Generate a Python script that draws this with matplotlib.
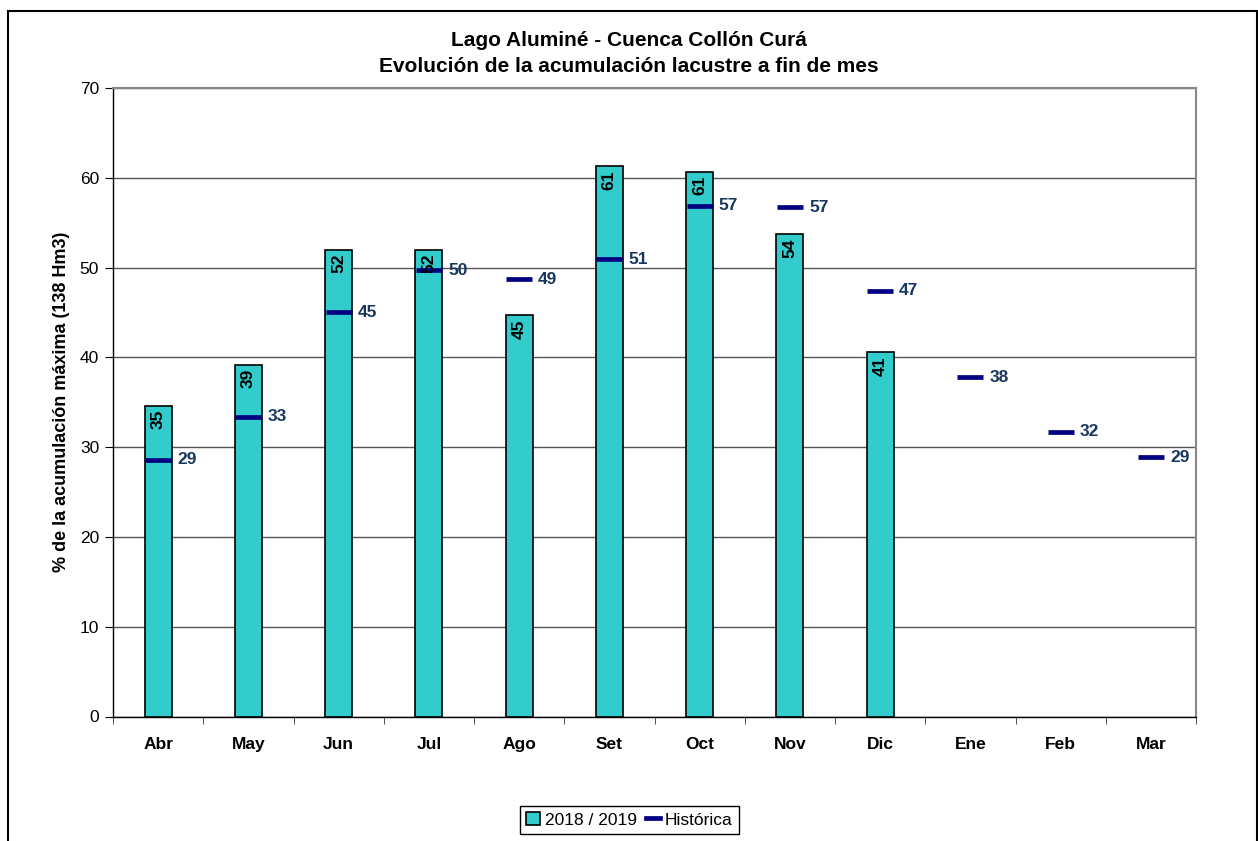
import matplotlib
matplotlib.use("Agg")
import matplotlib.pyplot as plt
from matplotlib.patches import Rectangle
from matplotlib.lines import Line2D

MONTHS = ["Abr", "May", "Jun", "Jul", "Ago", "Set", "Oct", "Nov", "Dic", "Ene", "Feb", "Mar"]
ACTUAL = [34.6, 39.2, 52.0, 52.0, 44.7, 61.3, 60.7, 53.7, 40.6]
HISTORIC = [28.6, 33.4, 45.0, 49.7, 48.7, 50.9, 56.9, 56.7, 47.4, 37.8, 31.7, 28.9]

BAR_COLOR = "#33CCCC"
DASH_COLOR = "#000080"
LABEL_COLOR = "#17375E"

plt.rcParams["font.family"] = ["Liberation Sans", "DejaVu Sans"]

W, H = 1258, 841
fig = plt.figure(figsize=(W / 100, H / 100), dpi=100)
ax = fig.add_axes([113 / W, 1 - 716.5 / H, (1196 - 113) / W, (716.5 - 88) / H])

x = list(range(len(MONTHS)))
ax.bar(x[:len(ACTUAL)], ACTUAL, width=0.3, color=BAR_COLOR, edgecolor="black",
       linewidth=1.2, zorder=3)
for xi, v in zip(x, ACTUAL):
    ax.annotate(f"{v:.0f}", (xi, v), xytext=(0, -3), textcoords="offset points",
                rotation=90, ha="center", va="top", fontsize=12.5, fontweight="bold",
                color="black", zorder=5)

ax.plot(x, HISTORIC, linestyle="none", marker="_", markersize=19, markeredgewidth=3.4,
        color=DASH_COLOR, zorder=4)
for xi, v in zip(x, HISTORIC):
    ax.annotate(f"{v:.0f}", (xi + 0.15, v), xytext=(4, 0), textcoords="offset points",
                ha="left", va="center", fontsize=12.5, fontweight="bold", color=LABEL_COLOR,
                zorder=5)

ax.set_xlim(-0.5, len(MONTHS) - 0.5)
ax.set_ylim(0, 70)
ax.set_yticks(range(0, 71, 10))
ax.set_xticks(x)
ax.set_xticklabels(MONTHS, fontsize=12.5, fontweight="bold")
ax.set_xticks([i - 0.5 for i in range(len(MONTHS) + 1)], minor=True)
ax.tick_params(axis="x", which="major", length=0, pad=15)
ax.tick_params(axis="x", which="minor", length=5, direction="out", color="#333333")
ax.tick_params(axis="y", length=6, direction="out", labelsize=12.5, pad=4)
ax.yaxis.grid(True, color="#555555", linewidth=1.0, zorder=0)
ax.set_axisbelow(True)

for side in ("top", "right"):
    ax.spines[side].set_color("#888888")
    ax.spines[side].set_linewidth(1.5)
for side in ("left", "bottom"):
    ax.spines[side].set_color("black")
    ax.spines[side].set_linewidth(1.0)

ax.set_ylabel("% de la acumulación máxima (138 Hm3)", fontsize=13, fontweight="bold",
              labelpad=7)

fig.text(0.5, 1 - 40 / H, "Lago Aluminé - Cuenca Collón Curá", ha="center", va="center",
         fontsize=15, fontweight="bold")
fig.text(0.5, 1 - 67 / H, "Evolución de la acumulación lacustre a fin de mes", ha="center",
         va="center", fontsize=15, fontweight="bold")

# outer chart frame
fig.patches.append(Rectangle((8 / W, -0.05), (1257 - 8) / W, 1.05 - 11.5 / H,
                             transform=fig.transFigure, fill=False, edgecolor="black",
                             linewidth=1.5))

handles = [
    Rectangle((0, 0), 1, 1, facecolor=BAR_COLOR, edgecolor="black", linewidth=1.2),
    Line2D([], [], color=DASH_COLOR, linewidth=3.4),
]
leg = fig.legend(handles, ["2018 / 2019", "Histórica"], loc="upper left",
                 bbox_to_anchor=(520 / W, 1 - 806 / H), ncol=2, fontsize=12.5,
                 frameon=True, fancybox=False, framealpha=1, edgecolor="black",
                 handlelength=0.8, handleheight=0.8, handletextpad=0.3,
                 columnspacing=0.5, borderpad=0.35, borderaxespad=0)
leg.get_frame().set_linewidth(1.0)

fig.savefig("out.png", dpi=100)
